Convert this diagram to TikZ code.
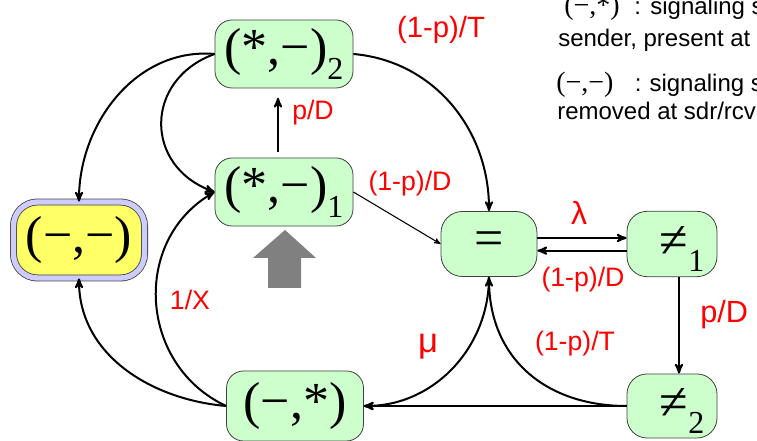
\documentclass[tikz,border=0pt]{standalone}
\usepackage{fontspec}
\setmainfont{Liberation Serif}
\setsansfont{Liberation Sans}
\usepackage{tikz}
\definecolor{colstate}{RGB}{204,255,204}
\definecolor{colempty}{RGB}{255,255,102}
\definecolor{colring}{RGB}{204,204,255}
\definecolor{colnote}{RGB}{255,0,0}
\definecolor{colblock}{RGB}{128,128,128}
\usetikzlibrary{
	arrows
}
\newcommand{\sublow}[1]{\raisebox{-11pt}{\fontsize{24}{24}\selectfont #1}}
\newcommand{\legsym}[1]{{\rmfamily\fontsize{21}{21}\selectfont #1}}
\tikzset{
	>=stealth',
	transition/.style={->, line width=1.5pt},
	thintransition/.style={->, line width=0.8pt},
	statenode/.style={draw=black!75, line width=0.6pt, fill=colstate, rounded corners=12.75pt, inner sep=0pt, minimum width=103.5pt, minimum height=51pt, font=\fontsize{39}{39}\selectfont},
	neqnode/.style={minimum width=67.5pt, minimum height=49pt, rounded corners=15pt, text height=20pt, text depth=0pt},
	emptynode/.style={draw=black!75, line width=0.6pt, double=colring, double distance=4pt, fill=colempty, rounded corners=18pt, inner sep=0pt, minimum width=98.3pt, minimum height=57pt, font=\fontsize{39}{39}\selectfont},
	note/.style={text=colnote, inner sep=0pt, font=\sffamily\fontsize{20}{20}\selectfont},
	legend/.style={anchor=base west, inner sep=0pt, font=\sffamily\fontsize{18}{18}\selectfont}
}

\begin{document}
\begin{tikzpicture}[x=0.75pt, y=0.75pt]
	\useasboundingbox (0,0) rectangle (757,441);
	% states
	\node[statenode] (s2) at (284,387) {(*,−)\sublow{2}};
	\node[statenode] (s1) at (284,249) {(*,−)\sublow{1}};
	\node[emptynode] (none) at (79,201) {(−,−)};
	\node[statenode, minimum width=72pt, minimum height=48.75pt, rounded corners=16pt] (eq) at (489,197) {=};
	\node[statenode, neqnode] (ne1) at (672,197) {\hspace{15pt}≠\sublow{1}};
	\node[statenode, neqnode, minimum height=48pt] (ne2) at (672,35) {\hspace{15pt}≠\sublow{2}};
	\node[statenode, minimum width=102.75pt, minimum height=52.5pt] (ms) at (295,35) {(−,*)};

	% transitions
	\draw[transition] (s2.west) to[out=175, in=90] (none.north);
	\draw[transition] (s2.west) to[out=200, in=160, looseness=1.4] (s1.west);
	\draw[transition, shorten <=4pt, shorten >=7pt] ([xshift=-4.5pt]s1.north) -- ([xshift=-4.5pt]s2.south);
	\draw[transition] (s2.east) to[out=-5, in=90] (eq.north);
	\draw[thintransition] (s1.east) -- (eq.west);
	\draw[transition] ([yshift=4.5pt]eq.east) -- ([yshift=4.5pt]ne1.west);
	\draw[transition] ([yshift=-5pt]ne1.west) -- ([yshift=-5pt]eq.east);
	\draw[transition] ([xshift=5.25pt]ne1.south) -- ([xshift=5.25pt]ne2.north);
	\draw[transition] (ne2.west) -- (ms.east);
	\draw[transition] (ne2.west) to[out=180, in=-90, looseness=1.1] (eq.south);
	\draw[transition] (eq.south) to[out=-90, in=0] (ms.east);
	\draw[transition] (ms.west) to[out=175, in=-90] (none.south);
	\draw[transition] (ms.west) to[out=155, in=210, looseness=1.15] (s1.west);

	% big arrow under (*,-)_1
	\fill[colblock] (285,211) -- (316,183) -- (301,183) -- (301,153) -- (268,153) -- (268,183) -- (253,183) -- cycle;

	% rates
	\node[note, font=\sffamily\fontsize{22}{22}\selectfont] (rtop) at (441,411) {(1-p)/T};
	\node[note] (rup) at (313,328) {p/D};
	\node[note] (rdiag) at (410,257) {(1-p)/D};
	\node[note, font=\sffamily\fontsize{24}{24}\selectfont] (rlam) at (579,228) {λ};
	\node[note] (rback) at (583,161) {(1-p)/D};
	\node[note, anchor=west, font=\sffamily\fontsize{23}{23}\selectfont] (rdown) at (700,126) {p/D};
	\node[note] (rret) at (575,97) {(1-p)/T};
	\node[note, font=\sffamily\fontsize{26}{26}\selectfont] (rmu) at (428,94) {μ};
	\node[note] (rx) at (190,141) {1/X};

	% legend
	\node[legend] (leg1) at (564,426) {\legsym{(−,*)}\hspace{11pt}:\hspace{7pt}signaling s};
	\node[legend] (leg2) at (558,394) {sender, present at};
	\node[legend] (leg3) at (556,349) {\legsym{(−,−)}\hspace{16pt}:\hspace{6pt}signaling s};
	\node[legend] (leg4) at (557,321) {removed at sdr/rcvr};
\end{tikzpicture}
\end{document}
